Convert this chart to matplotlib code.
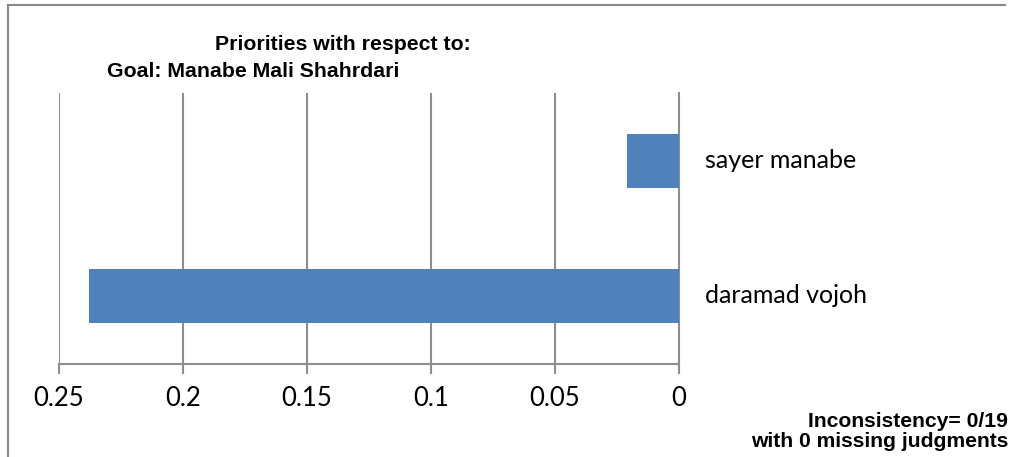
import matplotlib
matplotlib.use('Agg')
import matplotlib.pyplot as plt
from matplotlib.lines import Line2D

# data
categories = ['daramad vojoh', 'sayer manabe']
priorities = [0.238, 0.021]
xticks = [0.25, 0.2, 0.15, 0.1, 0.05, 0]
xtick_labels = ['0.25', '0.2', '0.15', '0.1', '0.05', '0']

title_lines = ['Priorities with respect to:', 'Goal: Manabe Mali Shahrdari']
footer_lines = ['Inconsistency= 0/19', 'with 0 missing judgments']

W, H = 1015, 457
fig = plt.figure(figsize=(W / 100, H / 100), dpi=100)
fig.patch.set_facecolor('white')

# plot area in pixel coords of the reference
left, right, top, bottom = 59, 679, 93, 363.5
ax = fig.add_axes([left / W, (H - bottom) / H, (right - left) / W, (bottom - top) / H])

grid_c = '#8e8e8e'
ax.barh(range(len(categories)), priorities, height=0.4, color='#4F81BD', zorder=3)
ax.set_xlim(0.25, 0)
ax.set_ylim(-0.5, 1.5)
ax.set_xticks(xticks)
ax.set_xticklabels(xtick_labels, family='Lato', fontsize=18.5)
ax.set_yticks([])
ax.grid(axis='x', color=grid_c, linewidth=1.5, zorder=0)
for s in ['top', 'left']:
    ax.spines[s].set_visible(False)
ax.spines['bottom'].set_color(grid_c)
ax.spines['bottom'].set_linewidth(1.5)
ax.spines['right'].set_color(grid_c)
ax.spines['right'].set_linewidth(1.5)
ax.tick_params(axis='x', direction='out', length=7, width=1.5, color=grid_c, pad=9)

# category labels to the right of the zero line
for i, name in enumerate(categories):
    ax.annotate(name, xy=(0, i), xycoords='data', xytext=(26, 0), textcoords='offset pixels',
                ha='left', va='center', family='Lato', fontsize=18, color='black')

# header text
fig.text(215 / W, 1 - 50 / H, title_lines[0], family='Liberation Sans', weight='bold',
         fontsize=15.3, ha='left', va='baseline')
fig.text(107 / W, 1 - 77 / H, title_lines[1], family='Liberation Sans', weight='bold',
         fontsize=15.3, ha='left', va='baseline')

# footer text, right aligned
fig.text(1008 / W, 1 - 427 / H, footer_lines[0], family='Liberation Sans', weight='bold',
         fontsize=15.2, ha='right', va='baseline')
fig.text(1008 / W, 1 - 447 / H, footer_lines[1], family='Liberation Sans', weight='bold',
         fontsize=15.2, ha='right', va='baseline')

# chart border (left and top edges visible)
border_c = '#8a8a8a'
fig.add_artist(Line2D([8 / W, 8 / W], [0, 1 - 5 / H], color=border_c, linewidth=1.5))
fig.add_artist(Line2D([8 / W, 1005 / W], [1 - 5 / H, 1 - 5 / H], color=border_c, linewidth=1.5))

fig.savefig('out.png', dpi=100)
